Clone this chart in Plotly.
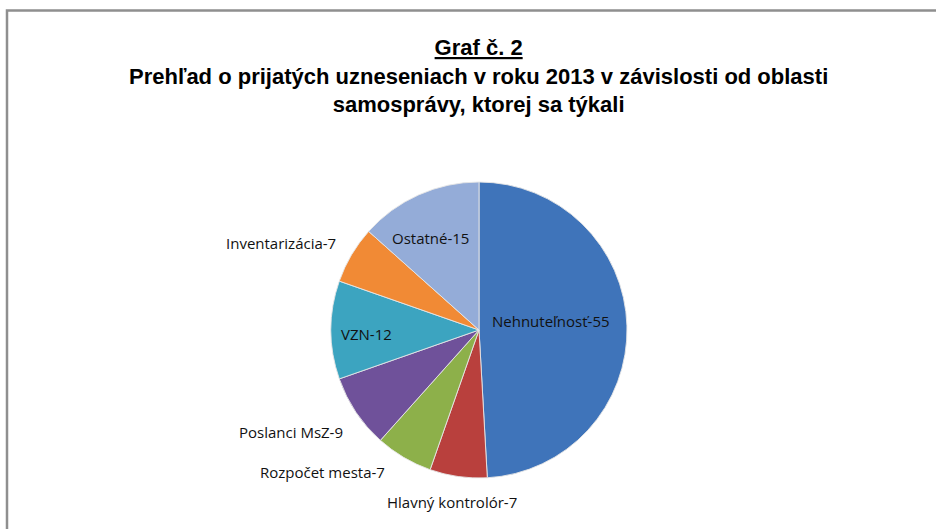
import plotly.graph_objects as go

W, H = 936, 529

categories = ["Nehnuteľnosť", "Hlavný kontrolór", "Rozpočet mesta", "Poslanci MsZ",
              "VZN", "Inventarizácia", "Ostatné"]
values = [55, 7, 7, 9, 12, 7, 15]
colors = ["#3f74ba", "#b9403d", "#8db04a", "#6f519a", "#3ca4c0", "#f18a35", "#94acd8"]

title_lines = ["Graf č. 2",
               "Prehľad o prijatých uzneseniach v roku 2013 v závislosti od oblasti",
               "samosprávy, ktorej sa týkali"]

# label anchor positions (pixels) for each category
label_pos = {
    "Nehnuteľnosť": (551, 321),
    "Hlavný kontrolór": (452, 502),
    "Rozpočet mesta": (322, 472),
    "Poslanci MsZ": (291, 432),
    "VZN": (366, 334),
    "Inventarizácia": (281, 243),
    "Ostatné": (430, 238),
}

cx, cy, r = 479, 330, 148

fig = go.Figure(go.Pie(
    labels=categories,
    values=values,
    sort=False,
    direction="clockwise",
    rotation=0,
    textinfo="none",
    hoverinfo="label+value",
    marker=dict(colors=colors, line=dict(color="rgba(230,230,230,0.9)", width=1)),
    domain=dict(x=[(cx - r) / W, (cx + r) / W], y=[1 - (cy + r) / H, 1 - (cy - r) / H]),
    showlegend=False,
))

annotations = []
for c, v in zip(categories, values):
    px, py = label_pos[c]
    annotations.append(dict(
        x=px / W, y=1 - py / H, xref="paper", yref="paper",
        text=f"{c}-{v}", showarrow=False, xanchor="center", yanchor="middle",
        font=dict(family="Open Sans, Noto Sans, sans-serif", size=15, color="#111111"),
    ))

title_text = f"<u>{title_lines[0]}</u><br>{title_lines[1]}<br>{title_lines[2]}"
annotations.append(dict(
    x=479 / W, y=1 - 76.5 / H, xref="paper", yref="paper",
    text=f"<b>{title_text}</b>", showarrow=False, xanchor="center", yanchor="middle",
    align="center",
    font=dict(family="Liberation Sans Narrow, Arial Narrow, Liberation Sans, Arial", size=22, color="#000000"),
))

fig.update_layout(
    width=W, height=H,
    margin=dict(l=0, r=0, t=0, b=0),
    paper_bgcolor="white",
    plot_bgcolor="white",
    annotations=annotations,
    shapes=[dict(type="rect", xref="paper", yref="paper",
                 x0=7 / W, x1=1.2, y0=-0.2, y1=1 - 10.5 / H,
                 line=dict(color="#8f8f8f", width=2.5), fillcolor="rgba(0,0,0,0)", layer="above")],
)

fig.write_html(
    "out.html",
    config={"displayModeBar": False},
    post_script="document.body.style.margin='0';document.body.style.overflow='hidden';",
)
